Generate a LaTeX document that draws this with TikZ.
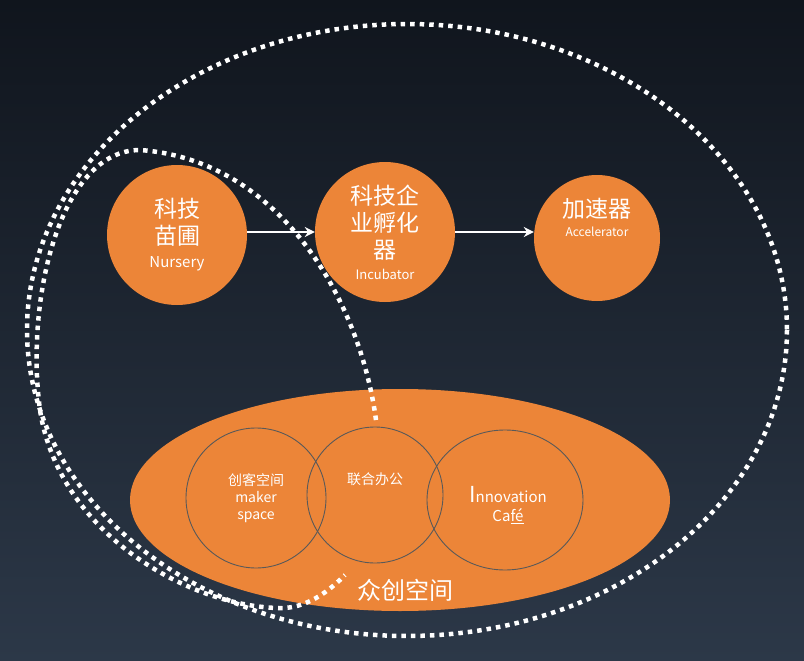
\documentclass[tikz,border=0pt]{standalone}
\usepackage{fontspec}
\setmainfont{Noto Sans CJK SC}
\usetikzlibrary{arrows.meta,shapes.geometric}
\definecolor{org}{HTML}{EC8538}
\definecolor{bgtop}{HTML}{10151D}
\definecolor{bgbot}{HTML}{2C3848}
\newcommand{\zhbig}{\fontsize{23}{27}\selectfont}
\tikzset{
 big/.style={circle,fill=org,text=white,align=center,inner sep=0pt},
 small/.style={circle,draw=gray!70!black,line width=0.9pt,text=white,align=center,inner sep=0pt},
 dots/.style={draw=white,line width=4.5pt,dash pattern=on 4.5pt off 5pt},
 arr/.style={-{Stealth[length=10pt,width=10pt]},white,line width=2.8pt}
}
\begin{document}
\begin{tikzpicture}[x=1pt,y=-1pt]
\shade[top color=bgtop,bottom color=bgbot] (0,0) rectangle (804,661);
\useasboundingbox (0,0) rectangle (804,661);
% big orange ellipse
\fill[org] (400,500) ellipse [x radius=270,y radius=111];
\node[small,minimum size=140pt,font=\fontsize{14}{17}\selectfont] (mk) at (256,498) {创客空间\\maker\\space};
\node[small,minimum size=136pt,font=\fontsize{14}{17}\selectfont] (lh) at (375,495) {联合办公\\[16pt]};
\node[small,ellipse,minimum width=156pt,minimum height=140pt] (in) at (505,500) {};
\node[text=white,align=center,font=\fontsize{15}{19}\selectfont] (it) at (508,505) {{\fontsize{22}{22}\selectfont I}nnovation\\Ca\underline{fé}};
\node[text=white,font=\fontsize{24}{26}\selectfont] (zc) at (405,590) {众创空间};
% top circles
\node[big,minimum size=140pt,font=\zhbig] (n) at (177,235) {科技\\苗圃\\[-4pt]\fontsize{15}{17}\selectfont Nursery};
\node[big,minimum size=140pt,font=\zhbig] (i) at (385,232) {科技企\\业孵化\\器\\[-6pt]\fontsize{13}{15}\selectfont Incubator};
\node[big,minimum size=126pt,font=\zhbig] (a) at (597,238) {加速器\\[-8pt]\fontsize{12}{14}\selectfont Accelerator\\[14pt]};
\coordinate (a1) at (247,232);
\coordinate (a2) at (455,232);
\draw[arr] (a1) -- (a1 -| i.west);
\draw[arr] (a2) -- (a2 -| a.west);
% dotted outlines
\draw[dots] (407,330) ellipse [x radius=380,y radius=306];
\draw[dots] (376,420) .. controls (360,300) and (280,160) .. (140,150)
  .. controls (60,150) and (25,300) .. (40,410)
  .. controls (60,540) and (200,610) .. (285,608)
  .. controls (310,606) and (330,590) .. (345,575);
\end{tikzpicture}
\end{document}
